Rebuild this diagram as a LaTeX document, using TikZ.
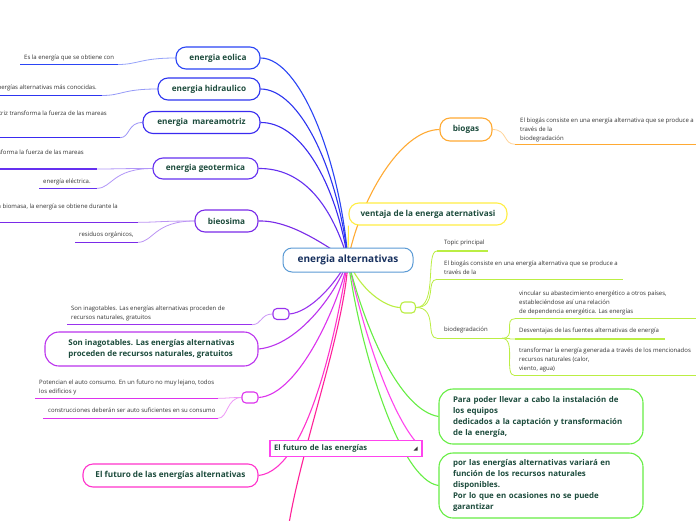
\documentclass[tikz,border=0pt]{standalone}
\usepackage{fontspec}
\setmainfont{Open Sans}
\usetikzlibrary{backgrounds}
\definecolor{rootblue}{HTML}{5B9BD5}
\definecolor{roottext}{HTML}{17305E}
\definecolor{boxtext}{HTML}{1C4B3C}
\definecolor{leaftext}{HTML}{333333}
\definecolor{cEol}{HTML}{2B45F5}
\definecolor{cHid}{HTML}{2D35F0}
\definecolor{cMar}{HTML}{3A2BF0}
\definecolor{cGeo}{HTML}{6530F0}
\definecolor{cBio}{HTML}{7A2BE8}
\definecolor{cPsm}{HTML}{9933EE}
\definecolor{cInag}{HTML}{BB33EE}
\definecolor{cMsm}{HTML}{DD33EE}
\definecolor{cFut}{HTML}{FF33CC}
\definecolor{cFutS}{HTML}{FF44EE}
\definecolor{cDown}{HTML}{FF2299}
\definecolor{cBiogas}{HTML}{FFAA33}
\definecolor{cVent}{HTML}{FFEE44}
\definecolor{cLime}{HTML}{BBEE44}
\definecolor{cGreen}{HTML}{66EE44}
\tikzset{
  rootbox/.style={
    draw=rootblue,
    fill=white,
    rounded corners=9pt,
    line width=1pt,
    minimum width=130pt,
    minimum height=24pt,
    font=\fontsize{10}{12}\selectfont\bfseries,
    text=roottext
  },
  branch/.style={
    fill=white,
    rounded corners=10pt,
    line width=1.1pt,
    minimum height=22pt,
    inner xsep=8pt,
    font=\fontsize{8.2}{10}\selectfont\bfseries,
    text=boxtext
  },
  bigbranch/.style={
    branch,
    rounded corners=14pt,
    align=left,
    font=\fontsize{7.9}{11}\selectfont\bfseries
  },
  tabbox/.style={
    draw=cFutS,
    fill=white,
    line width=1.1pt,
    minimum width=152pt,
    minimum height=16pt,
    inner xsep=4pt,
    text width=144pt,
    align=left,
    font=\fontsize{7.6}{8}\selectfont\bfseries,
    text=boxtext
  },
  stub/.style={
    fill=white,
    rounded corners=4pt,
    line width=1.1pt,
    minimum width=16pt,
    minimum height=11pt,
    inner sep=0pt
  },
  leaf/.style={
    inner sep=0pt,
    align=left,
    font=\fontsize{6}{9}\selectfont,
    text=leaftext
  },
  uline/.style={line width=1.3pt},
  trunk/.style={line width=1.1pt},
  twig/.style={line width=0.8pt}
}

\begin{document}
\begin{tikzpicture}[x=1pt,y=-1pt]
  \useasboundingbox (0,0) rectangle (696,520);

  \node[rootbox] (root) at (348,260) {energia alternativas};

  % left side
  \node[branch, draw=cEol, minimum width=84pt] (eolica) at (218,58) {energia eolica};
  \node[branch, draw=cHid, minimum width=102pt] (hidraulico) at (209,89) {energia hidraulico};
  \node[branch, draw=cMar, minimum width=117pt] (mareamotriz) at (201.5,122.5) {energia\ \ mareamotriz};
  \node[branch, draw=cGeo, minimum width=105pt, minimum height=21pt] (geotermica) at (205.5,168.5) {energia geotermica};
  \node[branch, draw=cBio, minimum width=63pt] (bieosima) at (226.5,221) {bieosima};
  \node[stub, draw=cPsm] (psm) at (281,314) {};
  \node[bigbranch, draw=cInag, minimum width=213pt, minimum height=34pt] (inagot) at (151.5,349) {Son inagotables. Las energías alternativas\\proceden de recursos naturales, gratuitos};
  \node[stub, draw=cMsm] (msm) at (250,397.5) {};
  \node[branch, draw=cFut, minimum width=175pt, minimum height=23pt] (futuro) at (170.5,475.5) {El futuro de las energías alternativas};
  \node[tabbox] (futsmall) at (346,448.7) {El futuro de las energías};
  \fill[leaftext] (413.5,450.5) -- (417.5,450.5) -- (417.5,446.5) -- cycle;

  % right side
  \node[branch, draw=cBiogas, minimum width=52pt, minimum height=23pt] (biogas) at (466,129.5) {biogas};
  \node[branch, draw=cVent, minimum width=158pt] (ventaja) at (428,214) {ventaja de la energa aternativasi};
  \node[stub, draw=cLime, minimum width=15pt] (lime) at (408,307.5) {};
  \node[bigbranch, draw=cGreen, minimum width=204pt, minimum height=55pt, text width=176pt, inner xsep=14pt] (instal) at (541,416.5) {Para poder llevar a cabo la instalación de\\los equipos\\dedicados a la captación y transformación\\de la energía,};
  \node[bigbranch, draw=cGreen, minimum width=204pt, minimum height=65pt, text width=176pt, inner xsep=14pt] (variara) at (541,485.5) {por las energías alternativas variará en\\función de los recursos naturales\\disponibles.\\Por lo que en ocasiones no se puede\\garantizar};
  \coordinate (offdown) at (288,530);

  % leaves
  \node[leaf, anchor=north west] (eolT) at (24,54.5) {Es la energía que se obtiene con};
  \coordinate (eolA) at (20,64.5); \coordinate (eolB) at (118,64.5);
  \node[leaf, anchor=north east] (hidT) at (97,84.7) {Es una de las energías alternativas más conocidas.};
  \coordinate (hidA) at (-150,95.5); \coordinate (hidB) at (102,95.5);
  \node[leaf, anchor=north east] (marT) at (107,110.5) {La energía mareamotriz transforma la fuerza de las mareas};
  \coordinate (marA) at (-150,137.7); \coordinate (marB) at (120,137.7);
  \node[leaf, anchor=north east] (geoT) at (84,150) {La energía geotérmica transforma la fuerza de las mareas};
  \coordinate (geoA) at (-150,169); \coordinate (geoB) at (97,169);
  \node[leaf, anchor=north west] (elecT) at (43,178.5) {energía eléctrica.};
  \coordinate (elecA) at (39,188.3); \coordinate (elecB) at (97,188.3);
  \node[leaf, anchor=north east] (bioT) at (118,203.5) {Con la biomasa, la energía se obtiene durante la};
  \coordinate (bioA) at (-150,222.3); \coordinate (bioB) at (138,222.3);
  \node[leaf, anchor=north west] (resT) at (79,232) {residuos orgánicos,};
  \coordinate (resA) at (75,242.3); \coordinate (resB) at (138,242.3);
  \node[leaf, anchor=north west] (inT) at (71,306) {Son inagotables. Las energías alternativas proceden de\\recursos naturales, gratuitos};
  \coordinate (inA) at (67,324.7); \coordinate (inB) at (252,324.7);
  \node[leaf, anchor=north west] (poT) at (39,379.5) {Potencian el auto consumo. En un futuro no muy lejano, todos\\los edificios y};
  \coordinate (poA) at (35,398.3); \coordinate (poB) at (218,398.3);
  \node[leaf, anchor=north west] (coT) at (48,408) {construcciones deberán ser auto suficientes en su consumo};
  \coordinate (coA) at (43,418.3); \coordinate (coB) at (218,418.3);

  \node[leaf, anchor=north west] (bgT) at (520,117.5) {El biogás consiste en una energía alternativa que se produce a\\través de la\\biodegradación};
  \coordinate (bgA) at (515,144.3); \coordinate (bgB) at (720,144.3);
  \node[leaf, anchor=north west] (tpT) at (444,239.5) {Topic principal};
  \coordinate (tpA) at (437,251); \coordinate (tpB) at (488,251);
  \node[leaf, anchor=north west] (bg2T) at (444,260.5) {El biogás consiste en una energía alternativa que se produce a\\través de la};
  \coordinate (bg2A) at (437,279.3); \coordinate (bg2B) at (623,279.3);
  \node[leaf, anchor=north west] (bdT) at (444,327) {biodegradación};
  \coordinate (bdA) at (437,338.3); \coordinate (bdB) at (502,338.3);
  \node[leaf, anchor=north west] (vcT) at (519,291) {vincular su abastecimiento energético a otros países,\\estableciéndose así una relación\\de dependencia energética. Las energías};
  \coordinate (vcA) at (515,318.7); \coordinate (vcB) at (720,318.7);
  \node[leaf, anchor=north west] (dsT) at (519,327.5) {Desventajas de las fuentes alternativas de energía};
  \coordinate (dsA) at (515,339); \coordinate (dsB) at (665,339);
  \node[leaf, anchor=north west] (trT) at (519,347.5) {transformar la energía generada a través de los mencionados\\recursos naturales (calor,\\viento, agua)};
  \coordinate (trA) at (515,375.7); \coordinate (trB) at (720,375.7);

  \begin{scope}[on background layer]
    \fill[white] (0,0) rectangle (696,520);
    % underlines
    \draw[uline, cEol] (eolA) -- (eolB);
    \draw[uline, cHid] (hidA) -- (hidB);
    \draw[uline, cMar] (marA) -- (marB);
    \draw[uline, cGeo] (geoA) -- (geoB);
    \draw[uline, cGeo] (elecA) -- (elecB);
    \draw[uline, cBio] (bioA) -- (bioB);
    \draw[uline, cBio] (resA) -- (resB);
    \draw[uline, cPsm] (inA) -- (inB);
    \draw[uline, cMsm] (poA) -- (poB);
    \draw[uline, cMsm] (coA) -- (coB);
    \draw[uline, cBiogas] (bgA) -- (bgB);
    \draw[uline, cLime] (tpA) -- (tpB);
    \draw[uline, cLime] (bg2A) -- (bg2B);
    \draw[uline, cLime] (bdA) -- (bdB);
    \draw[uline, cLime] (vcA) -- (vcB);
    \draw[uline, cLime] (dsA) -- (dsB);
    \draw[uline, cLime] (trA) -- (trB);

    % from the topics to their notes
    \draw[twig, cEol!50] (eolica.west) .. controls +(-35,0) and +(20,0) .. (eolB);
    \draw[twig, cHid!50] (hidraulico.west) .. controls +(-35,0) and +(20,0) .. (hidB);
    \draw[twig, cMar!50] (mareamotriz.west) .. controls +(-15,0) and +(10,0) .. (marB);
    \draw[twig, cGeo!50] (geotermica.west) .. controls +(-35,0) and +(20,0) .. (geoB);
    \draw[twig, cGeo!50] (geotermica.west) .. controls +(-40,0) and +(15,0) .. (elecB);
    \draw[twig, cBio!50] (bieosima.west) .. controls +(-35,0) and +(20,0) .. (bioB);
    \draw[twig, cBio!50] (bieosima.west) .. controls +(-40,0) and +(15,0) .. (resB);
    \draw[twig, cPsm!50] (psm.west) .. controls +(-12,0) and +(10,0) .. (inB);
    \draw[twig, cMsm!50] (msm.west) .. controls +(-12,0) and +(10,0) .. (poB);
    \draw[twig, cMsm!50] (msm.west) .. controls +(-15,0) and +(10,0) .. (coB);
    \draw[twig, cBiogas!50] (biogas.east) .. controls +(15,0) and +(-12,0) .. (bgA);
    \draw[twig, cLime] (lime.east) .. controls +(22,0) and +(-12,0) .. (tpA);
    \draw[twig, cLime] (lime.east) .. controls +(22,0) and +(-12,0) .. (bg2A);
    \draw[twig, cLime] (lime.east) .. controls +(22,0) and +(-12,0) .. (bdA);
    \draw[twig, cLime] (bdB) .. controls +(15,0) and +(-12,0) .. (vcA);
    \draw[twig, cLime] (bdB) .. controls +(15,0) and +(-12,0) .. (dsA);
    \draw[twig, cLime] (bdB) .. controls +(15,0) and +(-12,0) .. (trA);

    % from the central topic
    \draw[trunk, cEol] (root.center) .. controls (340,160) and (300,58) .. (eolica.east);
    \draw[trunk, cHid] (root.center) .. controls (338,170) and (300,89) .. (hidraulico.east);
    \draw[trunk, cMar] (root.center) .. controls (335,180) and (300,122) .. (mareamotriz.east);
    \draw[trunk, cGeo] (root.center) .. controls (330,200) and (300,168) .. (geotermica.east);
    \draw[trunk, cBio] (root.center) .. controls (325,245) and (290,220) .. (bieosima.east);
    \draw[trunk, cPsm] (root.center) .. controls (335,285) and (310,312) .. (psm.east);
    \draw[trunk, cInag] (root.center) .. controls (338,290) and (300,345) .. (inagot.east);
    \draw[trunk, cMsm] (root.center) .. controls (340,300) and (300,395) .. (msm.east);
    \draw[trunk, cFut] (root.center) .. controls (338,320) and (310,470) .. (futuro.east);
    \draw[trunk, cDown] (root.center) .. controls (345,330) and (300,450) .. (offdown);
    \draw[trunk, cFutS] (root.center) .. controls (365,340) and (395,425) .. (futsmall.east);
    \draw[trunk, cBiogas] (root.center) .. controls (360,200) and (400,130) .. (biogas.west);
    \draw[trunk, cVent] (root.center) -- (ventaja.south west);
    \draw[trunk, cLime] (root.center) .. controls (360,290) and (385,307) .. (lime.west);
    \draw[trunk, cGreen] (root.center) .. controls (365,330) and (400,410) .. (instal.west);
    \draw[trunk, cGreen] (root.center) .. controls (360,350) and (400,480) .. (variara.west);
  \end{scope}
\end{tikzpicture}
\end{document}
